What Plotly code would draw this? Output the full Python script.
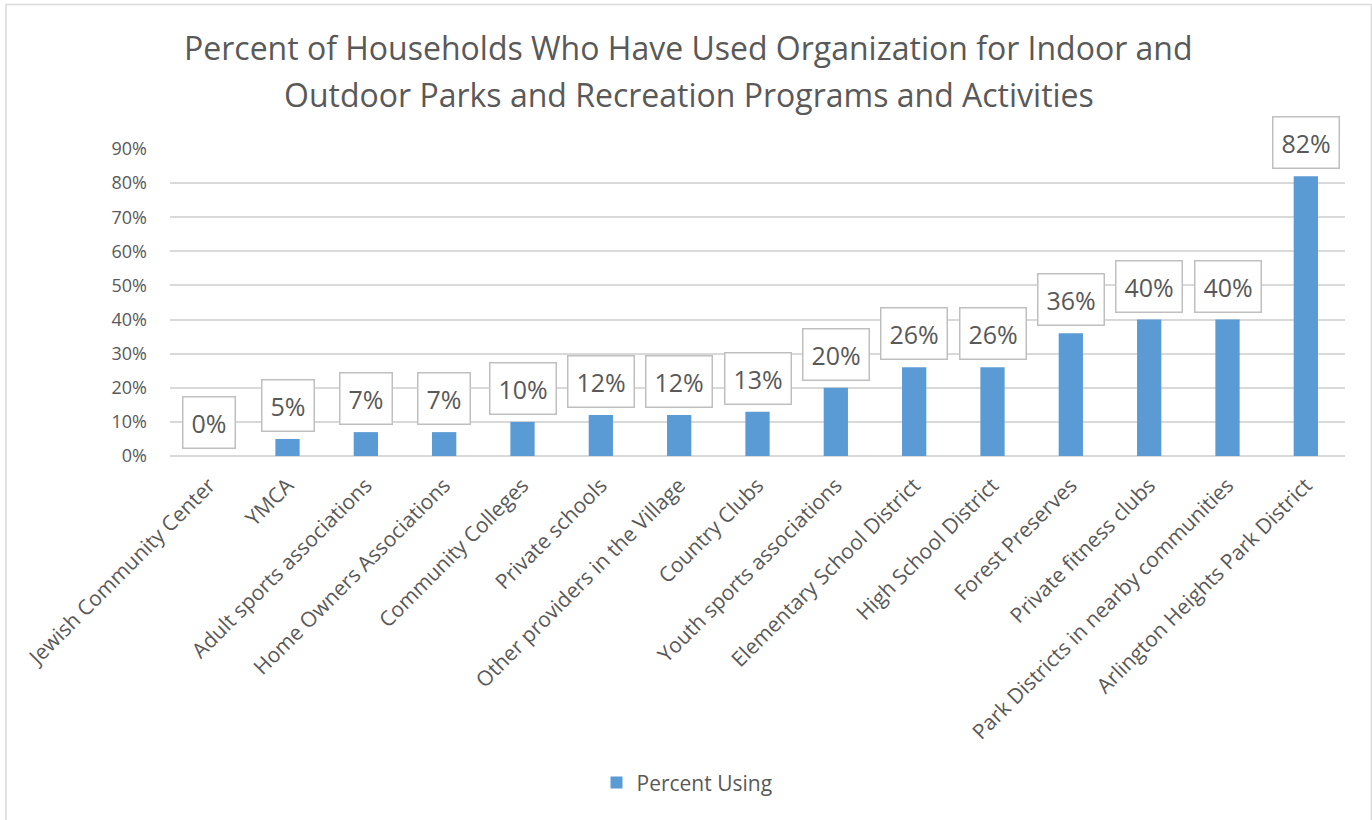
import plotly.graph_objects as go

# カテゴリと値 (%)
categories = [
    'Jewish Community Center', 'YMCA', 'Adult sports associations',
    'Home Owners Associations', 'Community Colleges', 'Private schools',
    'Other providers in the Village', 'Country Clubs', 'Youth sports associations',
    'Elementary School District', 'High School District', 'Forest Preserves',
    'Private fitness clubs', 'Park Districts in nearby communities',
    'Arlington Heights Park District'
]
percent_using = [0, 5, 7, 7, 10, 12, 12, 13, 20, 26, 26, 36, 40, 40, 82]
y_ticks = [0, 10, 20, 30, 40, 50, 60, 70, 80, 90]
title_lines = [
    'Percent of Households Who Have Used Organization for Indoor and',
    'Outdoor Parks and Recreation Programs and Activities',
]

GREY = '#595959'
BLUE = '#5B9BD5'
FONT = 'Open Sans'

fig = go.Figure(go.Bar(
    x=categories, y=percent_using, name='Percent Using',
    marker=dict(color=BLUE, line=dict(width=0)),
))

# データラベル (枠付き)
for c, v in zip(categories, percent_using):
    fig.add_annotation(
        x=c, y=v, text=f'{v}%', showarrow=False,
        yanchor='bottom', yshift=7,
        font=dict(family=FONT, size=25, color=GREY),
        bgcolor='white', bordercolor='#BFBFBF', borderwidth=1.5, borderpad=8,
    )

# タイトル (2行, 行間を広めに)
for line, ty in zip(title_lines, [1.329, 1.176]):
    fig.add_annotation(
        xref='paper', yref='paper', x=0.4417, y=ty, text=line, showarrow=False,
        xanchor='center', yanchor='middle',
        font=dict(family=FONT, size=32, color=GREY),
    )

# 外枠
fig.add_shape(type='rect', xref='paper', yref='paper',
              x0=-0.1396, x1=1.0225, y0=-1.3, y1=1.4707,
              line=dict(color='#D9D9D9', width=1.5), layer='below')

fig.update_layout(
    width=1372, height=820,
    margin=dict(l=170, r=27, t=149, b=364),
    paper_bgcolor='white', plot_bgcolor='white',
    bargap=0.69,
    font=dict(family=FONT, color=GREY),
    showlegend=True,
    legend=dict(orientation='h', x=0.44, xanchor='center', y=-1.065, yanchor='middle',
                font=dict(family=FONT, size=21, color=GREY)),
    xaxis=dict(
        tickangle=-45, tickfont=dict(size=21, color=GREY),
        showgrid=False, showline=False, ticks='', automargin=False,
        ticklabelstandoff=12,
    ),
    yaxis=dict(
        range=[0, 90], tickvals=y_ticks, ticktext=[f'{t}%' for t in y_ticks],
        tickfont=dict(size=18, color=GREY), automargin=False,
        showgrid=True, gridcolor='#D9D9D9', gridwidth=1.5,
        zeroline=True, zerolinecolor='#D9D9D9', zerolinewidth=1.5,
        ticklabelstandoff=22,
    ),
)

fig.write_html('out.html', config={'displayModeBar': False},
               post_script="document.body.style.margin='0';")
